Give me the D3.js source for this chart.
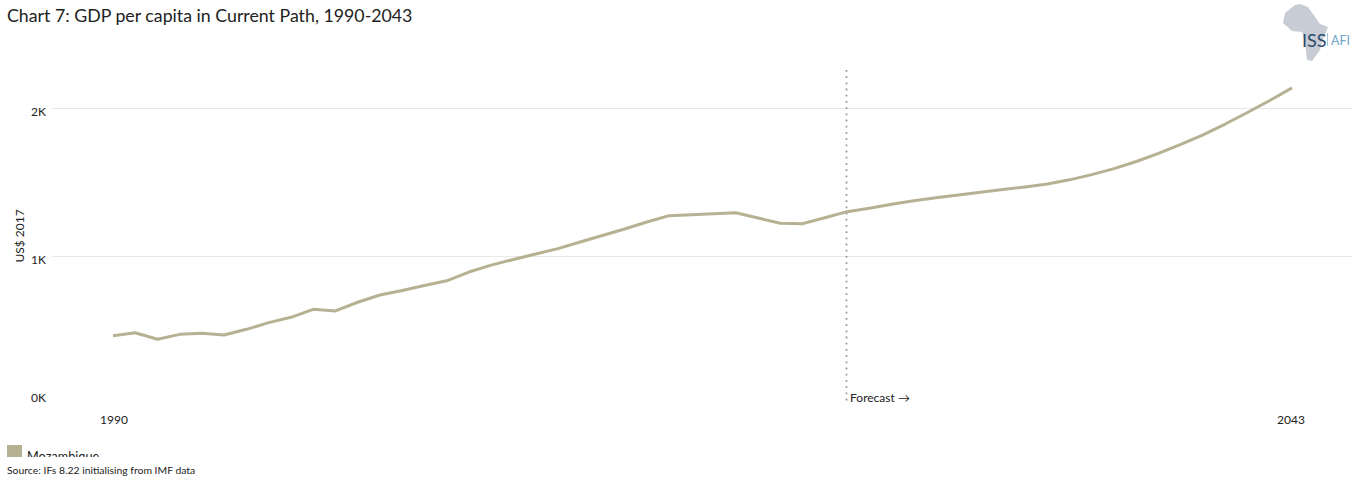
<!DOCTYPE html>
<html>
<head>
<meta charset="utf-8">
<script src="https://cdn.jsdelivr.net/npm/d3@7/dist/d3.min.js"></script>
<style>
  html, body { margin: 0; padding: 0; background: #fff; }
  svg { display: block; font-family: Lato, "Open Sans", sans-serif; }
</style>
</head>
<body>
<svg id="chart" width="1362" height="479"></svg>
<script>
const title = "Chart 7: GDP per capita in Current Path, 1990-2043";
const source = "Source: IFs 8.22 initialising from IMF data";
const yAxisTitle = "US$ 2017";
const seriesName = "Mozambique";
const seriesColor = "#b7b193";
const firstYear = 1990;
const forecastYear = 2023;

// GDP per capita, one value per year from 1990 to 2043
const gdpPerCapita = [
  465, 485, 441, 474, 481, 470, 508, 553, 589, 643,
  632, 691, 740, 770, 804, 836, 895, 942, 980, 1017,
  1053, 1098, 1142, 1186, 1233, 1276, 1282, 1289, 1296, 1260,
  1225, 1222, 1262, 1303, 1326, 1353, 1376, 1397, 1416, 1434,
  1452, 1470, 1490, 1518, 1553, 1594, 1642, 1697, 1757, 1822,
  1895, 1973, 2054, 2139
];
const yTicks = [0, 1000, 2000];
const xTicks = [1990, 2043];

const svg = d3.select("#chart");
const x = d3.scaleLinear().domain([1990, 2043]).range([113, 1292]);
const y = d3.scaleLinear().domain([0, 2000]).range([404.5, 108.5]);

const points = gdpPerCapita.map((v, i) => ({ year: firstYear + i, value: v }));

// Title
svg.append("text").attr("x", 7).attr("y", 22)
  .attr("font-size", 17.75).attr("fill", "#222").text(title);

// Horizontal grid lines
svg.append("g").selectAll("line").data(yTicks.filter(d => d > 0)).join("line")
  .attr("x1", 52).attr("x2", 1352)
  .attr("y1", d => y(d)).attr("y2", d => y(d))
  .attr("stroke", "#e8e8e8").attr("stroke-width", 1);

// Value axis labels; the zero label sits above the baseline
svg.append("g").selectAll("text").data(yTicks).join("text")
  .attr("x", 46).attr("text-anchor", "end")
  .attr("y", d => d === 0 ? y(d) - 2.5 : y(d) + 7)
  .attr("font-size", 12).attr("fill", "#222")
  .text(d => d3.format("d")(d / 1000) + "K");

svg.append("text")
  .attr("transform", "translate(24,236) rotate(-90)")
  .attr("text-anchor", "middle")
  .attr("font-size", 12).attr("fill", "#222").text(yAxisTitle);

// Year labels
svg.append("g").selectAll("text").data(xTicks).join("text")
  .attr("x", d => x(d) + (d === 2043 ? -1 : 1)).attr("y", 424)
  .attr("text-anchor", "middle")
  .attr("font-size", 12).attr("fill", "#222").text(d => d);

// Forecast marker
svg.append("line")
  .attr("x1", x(forecastYear) - 0.6).attr("x2", x(forecastYear) - 0.6)
  .attr("y1", 70).attr("y2", 404)
  .attr("stroke", "#999").attr("stroke-width", 1.8)
  .attr("stroke-dasharray", "1.8 4.4");
svg.append("text").attr("x", x(forecastYear) + 3).attr("y", 402)
  .attr("font-size", 12).attr("fill", "#222").text("Forecast →");

// Series line
svg.append("path").datum(points)
  .attr("fill", "none").attr("stroke", seriesColor)
  .attr("stroke-width", 3).attr("stroke-linejoin", "round")
  .attr("d", d3.line().x(d => x(d.year)).y(d => y(d.value)));

// Legend, its label cut off by the source strip below
svg.append("rect").attr("x", 7).attr("y", 445).attr("width", 15).attr("height", 12).attr("fill", seriesColor);
svg.append("text").attr("x", 27).attr("y", 461)
  .attr("font-size", 12.7).attr("fill", "#222").text(seriesName);
svg.append("rect").attr("x", 0).attr("y", 457).attr("width", 300).attr("height", 22).attr("fill", "#fff");
svg.append("text").attr("x", 7).attr("y", 474)
  .attr("font-size", 10.4).attr("fill", "#222").text(source);

// Logo: continent outline with the institute's initials
const logo = svg.append("g");
logo.append("path")
  .attr("fill", "#c8ccd4")
  .attr("d", "M1295 5 L1300 4 L1308 7 L1315 17 L1320 24 L1328 27 L1322 42 L1320 50 L1312 61 L1307 60 L1305 42 L1302 32 L1292 31 L1283 23 L1285 13 Z");
logo.append("text").attr("x", 1302).attr("y", 46.5)
  .attr("font-size", 18).attr("fill", "#2b4a6b").text("ISS");
logo.append("line").attr("x1", 1327.5).attr("x2", 1327.5).attr("y1", 33).attr("y2", 46)
  .attr("stroke", "#8fb6cf").attr("stroke-width", 0.8);
logo.append("text").attr("x", 1331).attr("y", 45)
  .attr("font-size", 12.5).attr("fill", "#6fa3c7").text("AFI");
</script>
</body>
</html>
